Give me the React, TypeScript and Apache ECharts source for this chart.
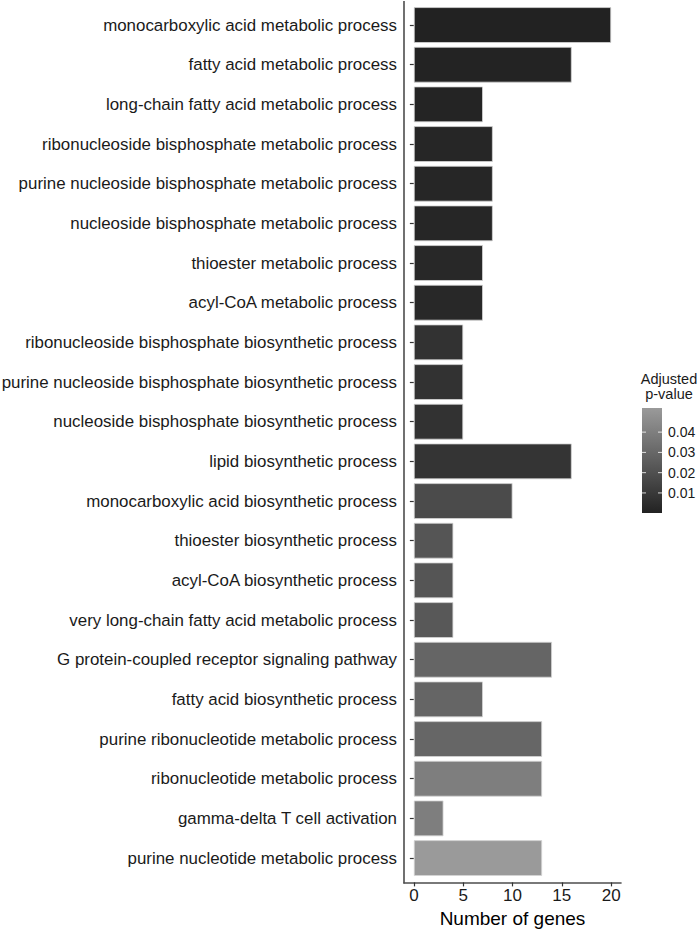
import React, { useEffect, useRef } from "react";
import * as echarts from "echarts";

const terms = [
  "monocarboxylic acid metabolic process",
  "fatty acid metabolic process",
  "long-chain fatty acid metabolic process",
  "ribonucleoside bisphosphate metabolic process",
  "purine nucleoside bisphosphate metabolic process",
  "nucleoside bisphosphate metabolic process",
  "thioester metabolic process",
  "acyl-CoA metabolic process",
  "ribonucleoside bisphosphate biosynthetic process",
  "purine nucleoside bisphosphate biosynthetic process",
  "nucleoside bisphosphate biosynthetic process",
  "lipid biosynthetic process",
  "monocarboxylic acid biosynthetic process",
  "thioester biosynthetic process",
  "acyl-CoA biosynthetic process",
  "very long-chain fatty acid metabolic process",
  "G protein-coupled receptor signaling pathway",
  "fatty acid biosynthetic process",
  "purine ribonucleotide metabolic process",
  "ribonucleotide metabolic process",
  "gamma-delta T cell activation",
  "purine nucleotide metabolic process",
];

const geneCounts = [20, 16, 7, 8, 8, 8, 7, 7, 5, 5, 5, 16, 10, 4, 4, 4, 14, 7, 13, 13, 3, 13];

const adjPValues = [
  0.0003, 0.0004, 0.001, 0.002, 0.002, 0.002, 0.0025, 0.0025, 0.0068, 0.0068, 0.0068,
  0.008, 0.018, 0.022, 0.022, 0.0235, 0.029, 0.029, 0.0295, 0.04, 0.04, 0.0518,
];

const xTicks = [0, 5, 10, 15, 20];
const legendTicks = [0.01, 0.02, 0.03, 0.04];
const pMin = 0.0001;
const pMax = 0.0519;
const lowColor = "#222222";
const highColor = "#9a9a9a";

export default function App() {
  const ref = useRef<HTMLDivElement>(null);

  useEffect(() => {
    if (!ref.current) return;
    const chart = echarts.init(ref.current, null, { renderer: "svg" });

    const cbX = 642;
    const cbY = 408;
    const cbW = 20;
    const cbH = 105;
    const yOf = (p: number) => cbY + cbH - ((p - pMin) / (pMax - pMin)) * cbH;

    const legendGraphics: any[] = [
      {
        type: "rect",
        shape: { x: cbX, y: cbY, width: cbW, height: cbH },
        style: {
          fill: new echarts.graphic.LinearGradient(0, 0, 0, 1, [
            { offset: 0, color: highColor },
            { offset: 1, color: lowColor },
          ]),
        },
      },
      {
        type: "text",
        style: {
          x: 669,
          y: 379,
          text: "Adjusted",
          fontSize: 14.5,
          fontFamily: "Liberation Sans",
          fill: "#1a1a1a",
          align: "center",
          verticalAlign: "middle",
        },
      },
      {
        type: "text",
        style: {
          x: 669,
          y: 394,
          text: "p-value",
          fontSize: 14.5,
          fontFamily: "Liberation Sans",
          fill: "#1a1a1a",
          align: "center",
          verticalAlign: "middle",
        },
      },
      {
        type: "line",
        shape: { x1: 404, y1: 1, x2: 404, y2: 883.5 },
        style: { stroke: "#4d4d4d", lineWidth: 1.6 },
      },
    ];
    legendTicks.forEach((t) => {
      const y = yOf(t);
      legendGraphics.push(
        { type: "line", shape: { x1: cbX, y1: y, x2: cbX + 4, y2: y }, style: { stroke: "#ffffff", lineWidth: 1, opacity: 0.8 } },
        { type: "line", shape: { x1: cbX + cbW - 4, y1: y, x2: cbX + cbW, y2: y }, style: { stroke: "#ffffff", lineWidth: 1, opacity: 0.8 } },
        {
          type: "text",
          style: {
            x: 668,
            y,
            text: t.toFixed(2),
            fontSize: 14,
            fontFamily: "Liberation Sans",
            fill: "#1a1a1a",
            align: "left",
            verticalAlign: "middle",
          },
        }
      );
    });

    chart.setOption({
      animation: false,
      backgroundColor: "#ffffff",
      textStyle: { fontFamily: "Liberation Sans" },
      grid: {
        left: 404,
        top: 5.2,
        width: 217,
        height: 872.7,
        containLabel: false,
        outerBoundsMode: "none",
      },
      dataset: {
        source: terms.map((t, i) => [t, geneCounts[i], adjPValues[i]]),
      },
      visualMap: {
        type: "continuous",
        show: false,
        seriesIndex: 0,
        dimension: 2,
        min: pMin,
        max: pMax,
        inRange: { color: [lowColor, highColor] },
      },
      xAxis: {
        type: "value",
        min: -1,
        max: 21,
        offset: 4.5,
        name: "Number of genes",
        nameLocation: "middle",
        nameGap: 22,
        nameTextStyle: { fontSize: 19, color: "#000000", fontFamily: "Liberation Sans" },
        axisLine: { show: true, lineStyle: { color: "#4d4d4d", width: 1.6 } },
        axisTick: { show: true, length: 4, customValues: xTicks, lineStyle: { color: "#333333", width: 1.2 } },
        axisLabel: { customValues: xTicks, fontSize: 17, color: "#1a1a1a", margin: 5 },
        splitLine: { show: false },
      },
      yAxis: {
        type: "category",
        inverse: true,
        data: terms,
        axisLine: { show: false },
        axisTick: { show: true, length: 4, alignWithLabel: true, lineStyle: { color: "#333333", width: 1.2 } },
        axisLabel: { fontSize: 16.9, color: "#1a1a1a", margin: 7 },
        splitLine: { show: false },
      },
      series: [
        {
          type: "bar",
          encode: { x: 1, y: 0 },
          barCategoryGap: "10%",
          itemStyle: { borderColor: "#d4d4d4", borderWidth: 0.8 },
        },
      ],
      graphic: legendGraphics,
    });

    return () => chart.dispose();
  }, []);

  return (
    <div
      ref={ref}
      style={{ position: "absolute", left: 0, top: 0, width: 700, height: 929, background: "#fff" }}
    />
  );
}
